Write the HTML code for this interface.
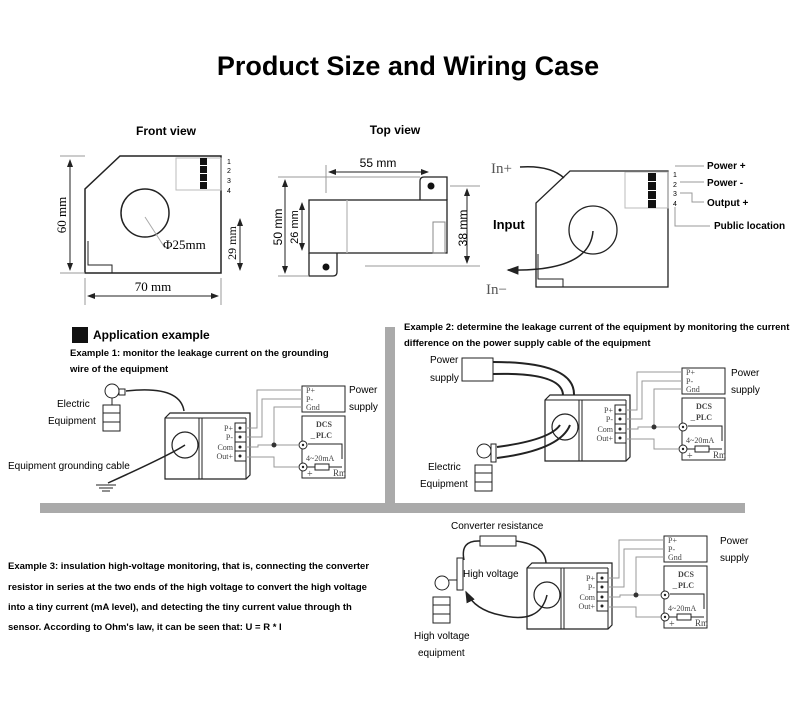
<!DOCTYPE html>
<html><head><meta charset="utf-8"><style>
body{margin:0;background:#fff;}
svg{display:block;font-family:"Liberation Sans",sans-serif;}
.s{font-family:"Liberation Serif",serif;}
</style></head><body>
<svg width="800" height="701" viewBox="0 0 800 701" xmlns="http://www.w3.org/2000/svg">
<defs>
<marker id="ar" markerWidth="8" markerHeight="8" refX="7" refY="4" orient="auto"><path d="M0,1 L8,4 L0,7 z" fill="#222"/></marker>
<marker id="as" markerWidth="8" markerHeight="8" refX="1" refY="4" orient="auto"><path d="M8,1 L0,4 L8,7 z" fill="#222"/></marker>
</defs>
<text x="408" y="75" font-size="27" font-weight="bold" text-anchor="middle">Product Size and Wiring Case</text>
<text x="166" y="135" font-size="12" font-weight="bold" text-anchor="middle">Front view</text>
<text x="395" y="134" font-size="12" font-weight="bold" text-anchor="middle">Top view</text>

<!-- Front view -->
<g stroke="#222" fill="none">
<polygon points="120,156 221,156 221,273 85,273 85,189" stroke-width="1.5"/>
<circle cx="145" cy="213" r="24" stroke-width="1.5"/>
<line x1="145" y1="217" x2="165" y2="248" stroke="#aaa"/>
<polyline points="88,241 88,265 112,265 112,273" stroke-width="1"/>
<rect x="176" y="158" width="45" height="32" stroke="#bbb"/>
</g>
<g fill="#111"><rect x="200" y="158" width="7" height="7"/><rect x="200" y="166" width="7" height="7"/><rect x="200" y="174" width="7" height="7"/><rect x="200" y="182" width="7" height="7"/></g>
<g font-size="7"><text x="227" y="164">1</text><text x="227" y="173">2</text><text x="227" y="183">3</text><text x="227" y="193">4</text></g>
<g stroke="#999" fill="none" stroke-width="1"><line x1="60" y1="156" x2="85" y2="156"/><line x1="60" y1="273" x2="85" y2="273"/><line x1="85" y1="278" x2="85" y2="305"/><line x1="221" y1="278" x2="221" y2="305"/></g>
<g stroke="#222"><line x1="70" y1="160" x2="70" y2="270" marker-start="url(#as)" marker-end="url(#ar)"/><line x1="88" y1="296" x2="218" y2="296" marker-start="url(#as)" marker-end="url(#ar)"/><line x1="240" y1="219" x2="240" y2="270" marker-start="url(#as)" marker-end="url(#ar)"/></g>
<text class="s" x="66" y="215" font-size="13" transform="rotate(-90 66 215)" text-anchor="middle">60 mm</text>
<text class="s" x="153" y="291" font-size="13" text-anchor="middle">70 mm</text>
<text class="s" x="236" y="243" font-size="12" transform="rotate(-90 236 243)" text-anchor="middle">29 mm</text>
<text class="s" x="163" y="249" font-size="13">Φ25mm</text>

<!-- Top view -->
<g stroke="#222" fill="none" stroke-width="1.3">
<rect x="309" y="200" width="138" height="53"/>
<line x1="347" y1="200" x2="347" y2="253" stroke="#bbb"/>
<path d="M420,200 V181 Q420,177 424,177 H447 V200"/>
<path d="M309,253 V276 H333 Q337,276 337,272 V253"/>
<rect x="433" y="222" width="12" height="31" stroke="#888" stroke-width="1"/>
</g>
<circle cx="431" cy="186" r="3.5" fill="#111"/><circle cx="326" cy="267" r="3.5" fill="#111"/>
<g stroke="#999"><line x1="326" y1="165" x2="326" y2="193"/><line x1="278" y1="177" x2="420" y2="177"/><line x1="278" y1="276" x2="309" y2="276"/><line x1="450" y1="186" x2="480" y2="186"/><line x1="365" y1="266" x2="480" y2="266"/></g>
<g stroke="#222"><line x1="329" y1="172" x2="428" y2="172" marker-start="url(#as)" marker-end="url(#ar)"/><line x1="285" y1="180" x2="285" y2="273" marker-start="url(#as)" marker-end="url(#ar)"/><line x1="302" y1="203" x2="302" y2="250" marker-start="url(#as)" marker-end="url(#ar)"/><line x1="467" y1="189" x2="467" y2="263" marker-start="url(#as)" marker-end="url(#ar)"/></g>
<text x="378" y="167" font-size="12" text-anchor="middle">55 mm</text>
<text x="282" y="227" font-size="12" transform="rotate(-90 282 227)" text-anchor="middle">50 mm</text>
<text x="298" y="227" font-size="11" transform="rotate(-90 298 227)" text-anchor="middle">26 mm</text>
<text x="467" y="228" font-size="12" transform="rotate(-90 467 228)" text-anchor="middle">38 mm</text>

<!-- Right device -->
<g stroke="#222" fill="none" stroke-width="1.3">
<polygon points="570,171 668,171 668,287 536,287 536,203"/>
<circle cx="593" cy="230" r="24"/>
<polyline points="538,254 538,279 563,279 563,287" stroke-width="1"/>
<rect x="625" y="172" width="43" height="36" stroke="#bbb" stroke-width="1"/>
<path d="M520,167 Q550,165 564,178" stroke-width="1.5"/>
<path d="M593,231 Q590,272 508,270" stroke-width="1.5" marker-end="url(#ar)"/>
</g>
<g fill="#111"><rect x="648" y="173" width="8" height="8"/><rect x="648" y="182" width="8" height="8"/><rect x="648" y="191" width="8" height="8"/><rect x="648" y="200" width="8" height="8"/></g>
<g font-size="7"><text x="673" y="177">1</text><text x="673" y="187">2</text><text x="673" y="196">3</text><text x="673" y="206">4</text></g>
<g stroke="#999" fill="none"><polyline points="675,166 704,166"/><polyline points="680,182 704,182"/><polyline points="680,193 692,193 692,202 704,202"/><polyline points="675,207 675,226 710,226"/></g>
<g font-size="10" font-weight="bold"><text x="707" y="169">Power +</text><text x="707" y="186">Power -</text><text x="707" y="206">Output +</text><text x="714" y="229">Public location</text></g>
<text class="s" x="491" y="173" font-size="15" fill="#555">In+</text>
<text class="s" x="486" y="294" font-size="15" fill="#555">In−</text>
<text x="493" y="229" font-size="13" font-weight="bold">Input</text>

<!-- gray bars -->
<rect x="385" y="327" width="10" height="185" fill="#aaa"/>
<rect x="40" y="503" width="705" height="10" fill="#aaa"/>

<!-- Application heading -->
<rect x="72" y="327" width="16" height="16" fill="#111"/>
<text x="93" y="339" font-size="12" font-weight="bold">Application example</text>
<g font-size="9.5" font-weight="bold"><text x="70" y="356">Example 1: monitor the leakage current on the grounding</text><text x="70" y="372">wire of the equipment</text>
<text x="404" y="330">Example 2: determine the leakage current of the equipment by monitoring the current</text><text x="404" y="346">difference on the power supply cable of the equipment</text>
<text x="8" y="569">Example 3: insulation high-voltage monitoring, that is, connecting the converter</text><text x="8" y="590">resistor in series at the two ends of the high voltage to convert the high voltage</text><text x="8" y="610">into a tiny current (mA level), and detecting the tiny current value through th</text><text x="8" y="630"> sensor. According to Ohm's law, it can be seen that: U = R * I</text></g>

<!-- Module 1 -->
<g id="m1">
<g stroke="#222" fill="none">
<path d="M165,418 L170,413 H250 V475 L246,479 H165 Z" stroke-width="1.2"/>
<line x1="165" y1="418" x2="246" y2="418"/><line x1="246" y1="418" x2="246" y2="479"/>
<line x1="199" y1="418" x2="199" y2="479"/><line x1="202" y1="418" x2="202" y2="479"/>
<circle cx="185" cy="445" r="13" stroke-width="1.2"/>
<rect x="235" y="423" width="11" height="38"/>
<line x1="235" y1="432" x2="246" y2="432"/><line x1="235" y1="442" x2="246" y2="442"/><line x1="235" y1="451" x2="246" y2="451"/>
<rect x="302" y="386" width="43" height="26"/>
<rect x="302" y="416" width="43" height="62"/>
<polyline points="308,444 342,444 342,459"/>
<rect x="315" y="464" width="14" height="6"/>
<line x1="307" y1="467" x2="315" y2="467"/><line x1="329" y1="467" x2="342" y2="467"/>
</g>
<g stroke="#999" fill="none">
<polyline points="246,428 257,428 257,390 302,390"/>
<polyline points="246,437 262,437 262,399 302,399"/>
<polyline points="274,445 274,407 302,407"/>
<polyline points="246,447 258,447 258,445 298,445"/>
<polyline points="246,457 274,457 274,467 298,467"/>
</g>
<circle cx="274" cy="445" r="2.5" fill="#333"/>
<circle cx="303" cy="445" r="4" fill="#fff" stroke="#222"/><circle cx="303" cy="445" r="1.2" fill="#222"/>
<circle cx="303" cy="467" r="4" fill="#fff" stroke="#222"/><circle cx="303" cy="467" r="1.2" fill="#222"/>
<g fill="#222"><circle cx="240" cy="428" r="1.5"/><circle cx="240" cy="437" r="1.5"/><circle cx="240" cy="447" r="1.5"/><circle cx="240" cy="456" r="1.5"/></g>
<g class="s" font-size="8" fill="#444" text-anchor="end"><text x="233" y="431">P+</text><text x="233" y="440">P-</text><text x="233" y="450">Com</text><text x="233" y="459">Out+</text></g>
<g class="s" font-size="8" fill="#444"><text x="306" y="393">P+</text><text x="306" y="402">P-</text><text x="306" y="410">Gnd</text>
<text x="324" y="427" text-anchor="middle" font-weight="bold">DCS</text><text x="324" y="438" text-anchor="middle" font-weight="bold">PLC</text>
<text x="306" y="461">4~20mA</text><text x="333" y="476" font-size="9">Rm</text><text x="307" y="477" font-size="10">+</text><text x="310" y="442" font-size="10">−</text></g>
</g>
<g font-size="10"><text x="349" y="393">Power</text><text x="349" y="410">supply</text>
<text x="57" y="407">Electric</text><text x="48" y="424">Equipment</text><text x="8" y="469">Equipment grounding cable</text></g>
<g stroke="#222" fill="none">
<circle cx="112" cy="391" r="7"/><rect x="103" y="405" width="17" height="26"/><line x1="103" y1="413" x2="120" y2="413"/><line x1="103" y1="422" x2="120" y2="422"/><line x1="112" y1="398" x2="112" y2="405"/>
<rect x="119" y="389" width="6" height="6"/>
<path d="M126,391 Q180,385 184,411" stroke-width="1.5"/>
<path d="M185,445 Q170,455 108,483" stroke-width="1.5"/>
<line x1="96" y1="485" x2="116" y2="485"/><line x1="99" y1="488" x2="113" y2="488"/><line x1="102" y1="491" x2="110" y2="491"/>
</g>

<!-- Module 2 -->
<use href="#m1" transform="translate(380,-18)"/>
<g font-size="10"><text x="430" y="363">Power</text><text x="430" y="381">supply</text><text x="731" y="376">Power</text><text x="731" y="393">supply</text><text x="428" y="470">Electric</text><text x="420" y="487">Equipment</text></g>
<g stroke="#222" fill="none">
<rect x="462" y="358" width="31" height="23"/>
<path d="M493,362 Q575,362 574,395" stroke-width="2"/>
<path d="M493,374 Q562,372 563,395" stroke-width="2"/>
<path d="M560,425 Q550,440 497,447" stroke-width="2"/>
<path d="M570,425 Q560,450 497,458" stroke-width="2"/>
<circle cx="484" cy="451" r="7"/><rect x="475" y="465" width="17" height="26"/><line x1="475" y1="473" x2="492" y2="473"/><line x1="475" y1="482" x2="492" y2="482"/>
<rect x="491" y="444" width="5" height="18"/>
</g>

<!-- Module 3 -->
<use href="#m1" transform="translate(362,150)"/>
<g font-size="10"><text x="451" y="529">Converter resistance</text><text x="720" y="544">Power</text><text x="720" y="561">supply</text><text x="463" y="577">High voltage</text><text x="414" y="639">High voltage</text><text x="418" y="656">equipment</text></g>
<g stroke="#222" fill="none">
<rect x="480" y="536" width="36" height="10"/>
<path d="M480,541 Q460,540 464,560" stroke-width="1.5"/>
<path d="M516,541 Q545,545 546,563" stroke-width="1.5"/>
<rect x="457" y="558" width="6" height="32"/>
<path d="M547,595 Q540,625 500,615 Q475,610 466,592" stroke-width="1.5" marker-end="url(#ar)"/>
<circle cx="442" cy="583" r="7"/><rect x="433" y="597" width="17" height="26"/><line x1="433" y1="605" x2="450" y2="605"/><line x1="433" y1="614" x2="450" y2="614"/>
<line x1="449" y1="580" x2="457" y2="580"/>
</g>
</svg>
</body></html>
